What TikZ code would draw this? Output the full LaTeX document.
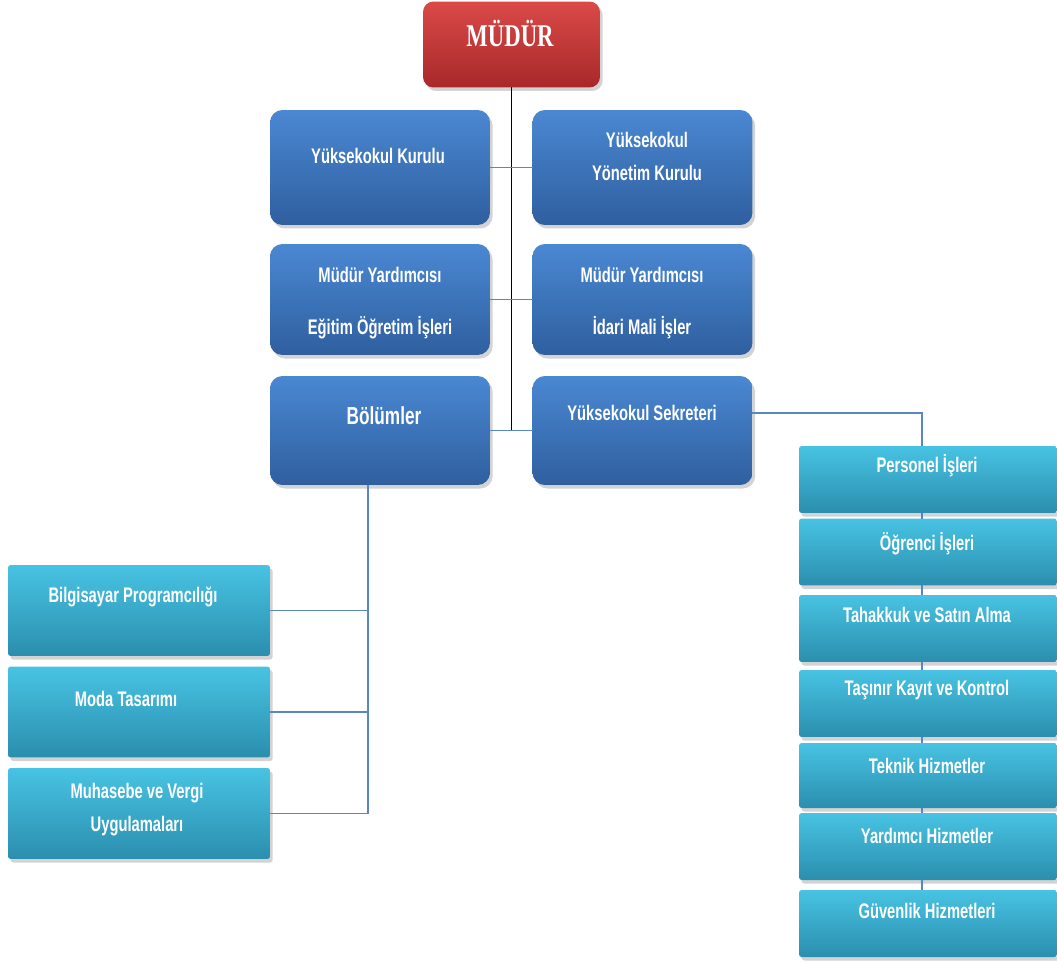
\documentclass[tikz,border=0pt]{standalone}
\usepackage{fontspec}
\newfontfamily\boxfont{Liberation Sans}[FakeStretch=0.70]
\newfontfamily\headfont{Liberation Serif}[FakeStretch=0.72]
\usetikzlibrary{shadows}
\definecolor{redtop}{HTML}{DA4A48}
\definecolor{redbot}{HTML}{A8282A}
\definecolor{bluetop}{HTML}{4A88D2}
\definecolor{bluebot}{HTML}{2F5F9F}
\definecolor{cyantop}{HTML}{48C3E3}
\definecolor{cyanbot}{HTML}{2B8EAE}
\definecolor{linkblue}{HTML}{5A86C4}

\begin{document}
\begin{tikzpicture}[x=0.02cm,y=-0.02cm,
   box/.style={inner sep=0pt,outer sep=0pt,
      drop shadow={opacity=.35,shadow xshift=1.5pt,shadow yshift=-2pt}},
   redbox/.style={box,rounded corners=6pt,top color=redtop,bottom color=redbot,
      minimum width=3.54cm,minimum height=1.72cm},
   bluebox/.style={box,rounded corners=7pt,top color=bluetop,bottom color=bluebot,
      minimum width=4.4cm},
   cyanbox/.style={box,rounded corners=1.5pt,top color=cyantop,bottom color=cyanbot},
   rightbox/.style={cyanbox,minimum width=5.16cm,minimum height=1.34cm},
   leftbox/.style={cyanbox,minimum width=5.24cm,minimum height=1.82cm},
   boxtext/.style={text=white,inner sep=0pt,align=center,
      font=\boxfont\bfseries\fontsize{12}{19}\selectfont},
   spine/.style={black,line width=0.9pt},
   link/.style={linkblue,line width=0.9pt}]
\useasboundingbox (0,0) rectangle (1057,962);

% top
\node[redbox] (mudur) at (511.5,44.5) {};
\node[text=white,font=\headfont\bfseries\fontsize{18}{20}\selectfont] (mudur-t) at (510,33) {MÜDÜR};

% middle boxes
\node[bluebox,minimum height=2.3cm] (ykurul) at (380,167.5) {};
\node[bluebox,minimum height=2.3cm] (yyonetim) at (642.5,167.5) {};
\node[bluebox,minimum height=2.22cm] (myegitim) at (380,299.5) {};
\node[bluebox,minimum height=2.22cm] (myidari) at (642.5,299.5) {};
\node[bluebox,minimum height=2.18cm] (bolum) at (380,430.5) {};
\node[bluebox,minimum height=2.18cm] (sekreter) at (642.5,430.5) {};

\node[boxtext] (ykurul-t) at (378,156) {Yüksekokul Kurulu};
\node[boxtext] (yyonetim-t) at (647,156.5) {Yüksekokul\\Yönetim Kurulu};
\node[boxtext] (myegitim-t) at (380,303) {Müdür Yardımcısı\\[11pt]Eğitim Öğretim İşleri};
\node[boxtext] (myidari-t) at (642,303) {Müdür Yardımcısı\\[11pt]İdari Mali İşler};
\node[boxtext,font=\boxfont\bfseries\fontsize{14}{17}\selectfont] (bolum-t) at (384,416) {Bölümler};
\node[boxtext] (sekreter-t) at (642,413) {Yüksekokul Sekreteri};

% right column
\node[rightbox] (personel) at (928,479.5) {};
\node[rightbox] (ogrenci) at (928,552) {};
\node[rightbox] (tahakkuk) at (928,628.5) {};
\node[rightbox] (tasinir) at (928,703.5) {};
\node[rightbox,minimum height=1.3cm] (teknik) at (928,775.5) {};
\node[rightbox] (yardimci) at (928,846.5) {};
\node[rightbox] (guvenlik) at (928,923.5) {};

\node[boxtext] (personel-t) at (927,466) {Personel İşleri};
\node[boxtext] (ogrenci-t) at (927,544) {Öğrenci İşleri};
\node[boxtext] (tahakkuk-t) at (927,615) {Tahakkuk ve Satın Alma};
\node[boxtext] (tasinir-t) at (927,690) {Taşınır Kayıt ve Kontrol};
\node[boxtext] (teknik-t) at (927,766) {Teknik Hizmetler};
\node[boxtext] (yardimci-t) at (927,836) {Yardımcı Hizmetler};
\node[boxtext] (guvenlik-t) at (927,911) {Güvenlik Hizmetleri};

% left column
\node[leftbox] (bilgisayar) at (139,610.5) {};
\node[leftbox] (moda) at (139,712) {};
\node[leftbox] (muhasebe) at (139,813.5) {};

\node[boxtext] (bilgisayar-t) at (133,597) {Bilgisayar Programcılığı};
\node[boxtext] (moda-t) at (126,699) {Moda Tasarımı};
\node[boxtext] (muhasebe-t) at (137,809.5) {Muhasebe ve Vergi\\Uygulamaları};

% connectors
\coordinate (bdrop) at ([xshift=-0.24cm]bolum.south);
\draw[spine] (mudur.south) -- (mudur.south |- bolum.east);
\draw[link] (ykurul.east) -- (yyonetim.west);
\draw[link] (myegitim.east) -- (myidari.west);
\draw[link] (bolum.east) -- (sekreter.west);
\draw[link] (sekreter.9) -| ([xshift=-0.12cm]personel.north);
\foreach \a/\b in {personel/ogrenci,ogrenci/tahakkuk,tahakkuk/tasinir,
   tasinir/teknik,teknik/yardimci,yardimci/guvenlik}
   \draw[link] ([xshift=-0.12cm]\a.south) -- ([xshift=-0.12cm]\b.north);
\draw[link] (bdrop) -- (bdrop |- muhasebe.east);
\foreach \c in {bilgisayar,moda,muhasebe}
   \draw[link] (\c.east) -- (\c.east -| bdrop);
\end{tikzpicture}
\end{document}
